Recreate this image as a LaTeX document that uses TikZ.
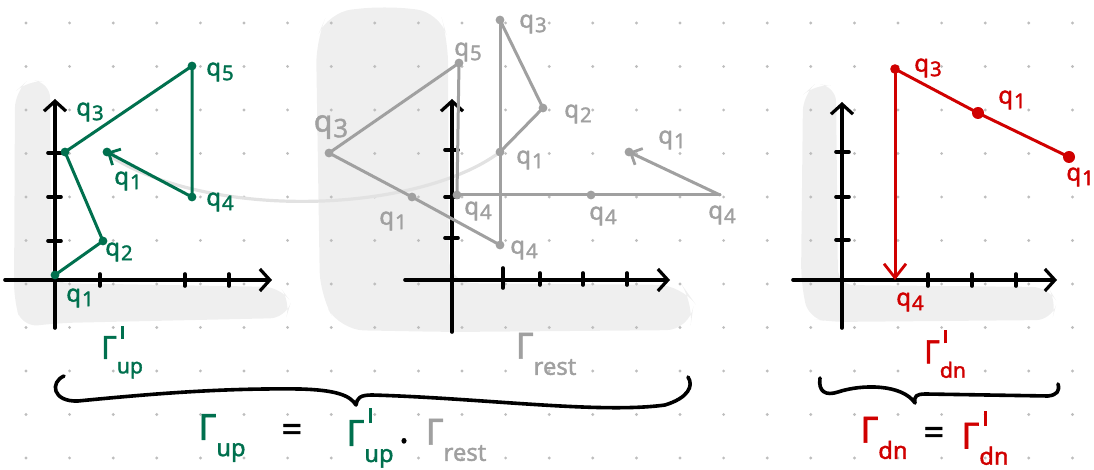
\documentclass[tikz,border=0pt]{standalone}
\usepackage{fontspec}
\setmainfont{Noto Sans}[FakeBold=1.6]
\usetikzlibrary{arrows.meta}
\definecolor{grn}{RGB}{0,112,78}
\definecolor{rd}{RGB}{208,0,0}
\definecolor{gln}{RGB}{160,160,160}
\definecolor{blobc}{RGB}{239,239,239}
\definecolor{griddot}{RGB}{190,190,190}
\definecolor{arcc}{RGB}{226,226,226}
\newcommand\qs[1]{q\kern0.04em\raisebox{-0.35ex}{\scalebox{0.85}{#1}}}
\newcommand\prm{\kern0.12em\rule{0.09em}{0.42em}}
\newcommand\Gm[2]{Γ\rlap{\raisebox{0.62em}{#2}}\raisebox{-0.45em}{\scalebox{0.66}{#1}}}
\tikzset{
  axisline/.style={line width=1.8pt, black, line cap=round, -{Straight Barb[length=5pt,width=11pt,line width=1.6pt]}},
  tick/.style={line width=1.8pt, black, line cap=round},
  gpath/.style={line width=1.5pt, grn, line cap=round, line join=round},
  rpath/.style={line width=1.5pt, rd, line cap=round, line join=round},
  apath/.style={line width=1.5pt, gln, line cap=round, line join=round},
  barb/.style={-{Straight Barb[length=4.5pt,width=9pt,line width=1.4pt]}},
  lbl/.style={inner sep=0pt, font=\fontsize{12}{14}\selectfont},
  biglbl/.style={inner sep=0pt, font=\fontsize{18}{20}\selectfont},
  brace/.style={line width=1.8pt, black, line cap=round, line join=round},
}
\begin{document}
\begin{tikzpicture}[x=0.5pt,y=-0.5pt]
\useasboundingbox (0,0) rectangle (1094,470);
% background blobs
\fill[blobc, rounded corners=8pt] (15,92) -- (28,80) -- (50,82) -- (52,283) -- (280,287) -- (291,302) -- (286,318) -- (60,323) -- (22,327) -- (14,300) -- cycle;
\fill[blobc, rounded corners=12pt] (316,40) -- (328,12) -- (385,6) -- (440,12) -- (448,40) -- (449,283) -- (682,285) -- (694,302) -- (690,330) -- (450,332) -- (340,330) -- (320,295) -- cycle;
\fill[blobc, rounded corners=8pt] (803,95) -- (815,84) -- (836,86) -- (838,285) -- (1048,287) -- (1057,302) -- (1052,320) -- (830,322) -- (808,318) -- (801,280) -- cycle;
% dot grid
\foreach \i in {0,...,24} \foreach \j in {0,...,10}
  \fill[griddot] ({26+43.6*\i},{23+43.5*\j}) circle (0.8pt);

% ---------- panel 1 (green) ----------
\coordinate (o1) at (55,280);
\coordinate (y1) at (55,99);
\coordinate (y1b) at (55,328);
\coordinate (x1a) at (5,280);
\coordinate (x1) at (272,280);
\draw[tick] (y1b) -- (o1);
\draw[axisline] (o1) -- (y1);
\draw[tick] (x1a) -- (o1);
\draw[axisline] (o1) -- (x1);
\foreach \t in {153,197,241} \draw[tick] (48,\t) -- (61,\t);
\foreach \t in {100,185,229} \draw[tick] (\t,274) -- (\t,286);

% light arc to the grey copy
\coordinate (arcS) at (110,156);
\coordinate (arcE) at (500,152);
\draw[arcc, line width=1.6pt, line cap=round] (arcS) .. controls (215,222) and (420,212) .. (arcE);

\coordinate (g1) at (55,275);
\coordinate (g2) at (103,241);
\coordinate (g3) at (65,152);
\coordinate (g5) at (192,66);
\coordinate (g4) at (192,197);
\coordinate (g1e) at (107,152);
\draw[gpath] (g1) -- (g2) -- (g3) -- (g5) -- (g4);
\draw[gpath, barb] (g4) -- (g1e);
\foreach \p in {g1,g2,g3,g5,g4,g1e} \fill[grn] (\p) circle (2.2pt);
\node[lbl, text=grn] (lg3) at (90,112) {\qs{3}};
\node[lbl, text=grn] (lg5) at (220,72) {\qs{5}};
\node[lbl, text=grn] (lg1e) at (128,181) {\qs{1}};
\node[lbl, text=grn] (lg4) at (220,202) {\qs{4}};
\node[lbl, text=grn] (lg2) at (119,252) {\qs{2}};
\node[lbl, text=grn] (lg1) at (80,298) {\qs{1}};
\node[biglbl, text=grn, font=\fontsize{16}{18}\selectfont] (Gup1) at (122,352) {\Gm{up}{\prm}};

% ---------- panel 2 (grey) ----------
\coordinate (o2) at (452,280);
\coordinate (y2) at (452,99);
\coordinate (y2b) at (452,332);
\coordinate (x2a) at (405,280);
\coordinate (x2) at (670,280);
\draw[tick] (y2b) -- (o2);
\draw[axisline] (o2) -- (y2);
\draw[tick] (x2a) -- (o2);
\draw[axisline] (o2) -- (x2);
\foreach \t in {150,197,238} \draw[tick] (445,\t) -- (458,\t);
\draw[tick] (503,268) -- (503,288);
\foreach \t in {540,583,627} \draw[tick] (\t,273) -- (\t,285);

\coordinate (a3) at (329,153);
\coordinate (a5) at (459,63);
\coordinate (a4a) at (457,195);
\coordinate (a1a) at (412,197);
\coordinate (a4b) at (500,245);
\coordinate (b3) at (500,20);
\coordinate (b2) at (543,108);
\coordinate (b1) at (500,152);
\coordinate (c4) at (591,195);
\coordinate (c4e) at (720,195);
\coordinate (c1) at (629,152);
\draw[apath] (a3) -- (a5) -- (a4a);
\draw[apath] (a3) -- (a1a) -- (a4b);
\draw[apath] (b3) -- (a4b);
\draw[apath] (b3) -- (b2) -- (b1);
\draw[apath] (a4a) -- (c4) -- (c4e);
\draw[apath, barb] (c4e) -- (c1);
\foreach \p in {a3,a5,a4a,a1a,a4b,b3,b2,b1,c4,c1} \fill[gln] (\p) circle (2.2pt);
\node[lbl, text=gln, font=\fontsize{15}{17}\selectfont] (la3) at (331,127) {\qs{3}};
\node[lbl, text=gln] (la5) at (468,52) {\qs{5}};
\node[lbl, text=gln] (la1) at (393,221) {\qs{1}};
\node[lbl, text=gln] (la4a) at (478,211) {\qs{4}};
\node[lbl, text=gln] (la4b) at (524,250) {\qs{4}};
\node[lbl, text=gln] (lb3) at (533,24) {\qs{3}};
\node[lbl, text=gln] (lb2) at (578,114) {\qs{2}};
\node[lbl, text=gln] (lb1) at (530,160) {\qs{1}};
\node[lbl, text=gln] (lc4) at (603,216) {\qs{4}};
\node[lbl, text=gln] (lc4e) at (722,215) {\qs{4}};
\node[lbl, text=gln] (lc1) at (672,140) {\qs{1}};
\node[biglbl, text=gln] (Grest1) at (546,354) {\Gm{rest}{}};

% ---------- panel 3 (red) ----------
\coordinate (o3) at (842,280);
\coordinate (y3) at (842,102);
\coordinate (y3b) at (842,328);
\coordinate (x3a) at (793,280);
\coordinate (x3) at (1057,280);
\draw[tick] (y3b) -- (o3);
\draw[axisline] (o3) -- (y3);
\draw[tick] (x3a) -- (o3);
\draw[axisline] (o3) -- (x3);
\foreach \t in {152,197,240} \draw[tick] (836,\t) -- (849,\t);
\foreach \t in {928,972,1016} \draw[tick] (\t,274) -- (\t,286);

\coordinate (r0) at (1069,157);
\coordinate (r1) at (978,113);
\coordinate (r3) at (895,69);
\coordinate (r4) at (895,280);
\draw[rpath] (r0) -- (r1) -- (r3);
\draw[rpath, -{Straight Barb[length=7pt,width=11pt,line width=1.4pt]}] (r3) -- (r4);
\foreach \p/\r in {r0/3pt,r1/3pt,r3/2.4pt} \fill[rd] (\p) circle (\r);
\node[lbl, text=rd] (lr3) at (928,68) {\qs{3}};
\node[lbl, text=rd] (lr1) at (1012,100) {\qs{1}};
\node[lbl, text=rd, anchor=west] (lr0) at (1066,177) {\qs{1}};
\node[lbl, text=rd] (lr4) at (910,302) {\qs{4}};
\node[biglbl, text=rd, font=\fontsize{16}{18}\selectfont] (Gdn1) at (945,354) {\Gm{dn}{\prm}};

% ---------- braces ----------
\coordinate (bra) at (64,376);
\coordinate (brm) at (356,405);
\coordinate (brb) at (688,377);
\draw[brace] (bra) .. controls (50,382) and (52,402) .. (78,401)
  .. controls (150,394) and (220,388) .. (300,389)
  .. controls (335,390) and (350,395) .. (brm)
  .. controls (357,398) and (360,395) .. (372,395)
  .. controls (480,398) and (600,414) .. (665,405)
  .. controls (688,398) and (694,386) .. (brb);
\coordinate (bsa) at (820,378);
\coordinate (bsm) at (915,403);
\coordinate (bsb) at (1058,384);
\draw[brace] (bsa) .. controls (818,392) and (826,396) .. (838,392)
  .. controls (862,384) and (902,384) .. (bsm)
  .. controls (914,396) and (916,394) .. (926,394)
  -- (1048,396) .. controls (1057,395) and (1060,391) .. (bsb);

% ---------- formulas ----------
\node[biglbl, text=grn] (Gup) at (222,438) {\Gm{up}{}};
\node[biglbl] (eq1) at (292,433) {=};
\node[biglbl, text=grn] (Gup2) at (370,438) {\Gm{up}{\prm}};
\node[biglbl] (dot1) at (404,446) {·};
\node[biglbl, text=gln] (Grest2) at (456,440) {\Gm{rest}{}};
\node[biglbl, text=rd] (Gdn) at (884,438) {\Gm{dn}{}};
\node[biglbl] (eq2) at (934,436) {=};
\node[biglbl, text=rd] (Gdn2) at (985,438) {\Gm{dn}{\prm}};
\end{tikzpicture}
\end{document}
